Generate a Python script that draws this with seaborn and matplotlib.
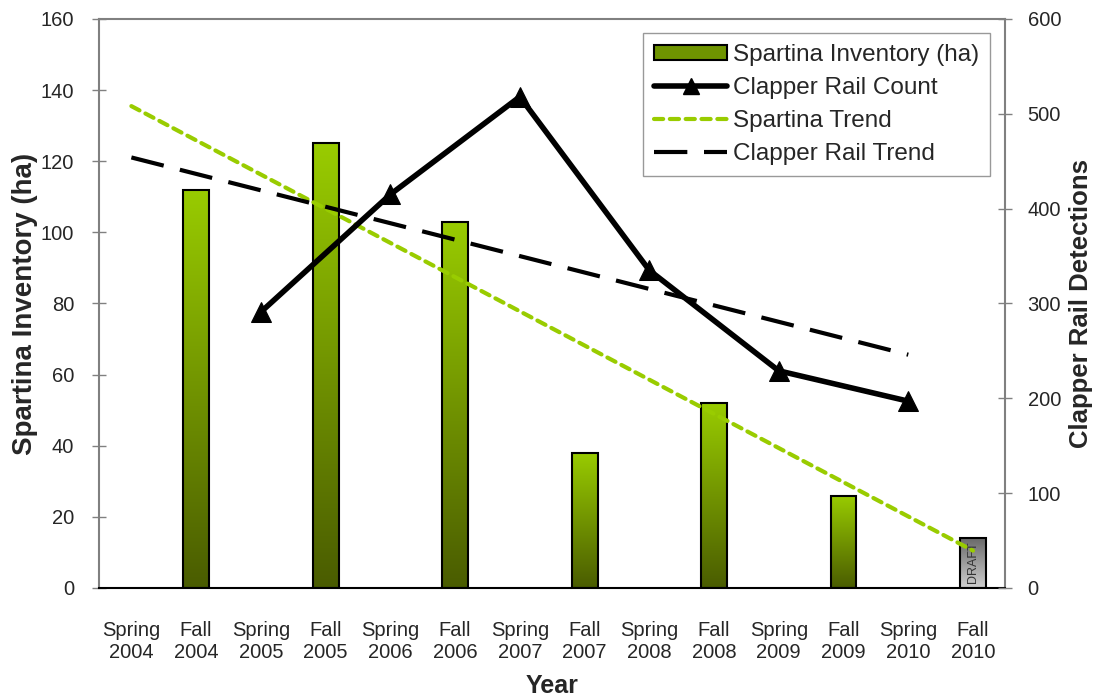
import matplotlib
matplotlib.use('Agg')
import matplotlib.pyplot as plt
import pandas as pd
import seaborn as sns
import numpy as np
from matplotlib.colors import LinearSegmentedColormap
from matplotlib.lines import Line2D
from matplotlib.patches import Patch

# Data
seasons = ['Spring\n2004', 'Fall\n2004', 'Spring\n2005', 'Fall\n2005', 'Spring\n2006', 'Fall\n2006',
           'Spring\n2007', 'Fall\n2007', 'Spring\n2008', 'Fall\n2008', 'Spring\n2009', 'Fall\n2009',
           'Spring\n2010', 'Fall\n2010']
spartina_idx = [1, 3, 5, 7, 9, 11, 13]
spartina_ha = [112, 125, 103, 38, 52, 26, 14]
rail_idx = [2, 4, 6, 8, 10, 12]
rail_count = [291, 415, 518, 335, 229, 197]
spartina_trend_idx = [0, 13]
spartina_trend = [135.5, 10.5]
rail_trend_idx = [0, 12]
rail_trend = [454, 246]

sns.set_style('white')
plt.rcParams['font.family'] = ['Liberation Sans', 'DejaVu Sans']

fig = plt.figure(figsize=(10.94, 6.98), dpi=100)
ax = fig.add_axes([0.0905, 0.1576, 0.8285, 0.8152])

df_bar = pd.DataFrame({'pos': spartina_idx, 'ha': spartina_ha})
sns.barplot(data=df_bar, x='pos', y='ha', native_scale=True, width=0.2,
            color='#7a9e00', edgecolor='black', linewidth=1.5, ax=ax, zorder=2)

# gradient fill in the bars
green = LinearSegmentedColormap.from_list('g', ['#4a5c00', '#99cc00'])
grey = LinearSegmentedColormap.from_list('k', ['#cfcfcf', '#6a6a6a'])
grad = np.linspace(0, 1, 256).reshape(-1, 1)
patches = list(ax.patches)
for i, p in enumerate(patches):
    x0, y0, w, h = p.get_x(), p.get_y(), p.get_width(), p.get_height()
    cmap = grey if i == len(patches) - 1 else green
    im = ax.imshow(grad, cmap=cmap, extent=[x0, x0 + w, y0, y0 + h], origin='lower',
                   aspect='auto', zorder=1.9)
    im.set_clip_path(p)
    p.set_facecolor('none')
last = patches[-1]
ax.text(last.get_x() + last.get_width() / 2, last.get_height() / 2 + 0.3, 'DRAFT', rotation=90,
        ha='center', va='center', fontsize=9, color='#333333', zorder=3)

# spartina trend (left axis)
sns.lineplot(x=spartina_trend_idx, y=spartina_trend, ax=ax, color='#99cc00', linewidth=3,
             zorder=4)
ax.lines[-1].set_dashes((2.2, 1.6))
ax.lines[-1].set_dash_capstyle('round')

ax.set_xlim(-0.5, 13.5)
ax.set_ylim(0, 160)
ax.set_yticks(range(0, 161, 20))
ax.set_xticks(range(len(seasons)))
ax.set_xticklabels(seasons, fontsize=14.5, linespacing=1.15)
ax.set_xticks(np.arange(-0.5, 13.6, 1), minor=True)
ax.tick_params(axis='x', which='major', length=0, pad=24)
ax.tick_params(axis='x', which='minor', length=8, direction='inout', color='#808080', width=1)
ax.tick_params(axis='y', length=10, direction='inout', color='#808080', width=1,
               labelsize=14.5, pad=13)
ax.set_xlabel('Year', fontsize=18, fontweight='bold', labelpad=9)
ax.set_ylabel('Spartina Inventory (ha)', fontsize=20, fontweight='bold', labelpad=2)
for s in ['left', 'right', 'top']:
    ax.spines[s].set_color('#808080')
    ax.spines[s].set_linewidth(1.5)
ax.spines['bottom'].set_color('black')
ax.spines['bottom'].set_linewidth(1.5)

# clapper rail (right axis)
ax2 = ax.twinx()
sns.lineplot(x=rail_idx, y=rail_count, ax=ax2, color='black', linewidth=4, marker='^',
             markersize=15, markeredgecolor='black')
sns.lineplot(x=rail_trend_idx, y=rail_trend, ax=ax2, color='black', linewidth=3)
ax2.lines[-1].set_dashes((8, 4))
ax2.set_ylim(0, 600)
ax2.set_xlim(-0.5, 13.5)
ax2.set_yticks(range(0, 601, 100))
ax2.tick_params(axis='y', length=10, direction='inout', color='#808080', width=1,
                labelsize=14.5, pad=11)
ax2.set_ylabel('Clapper Rail Detections', fontsize=18.5, fontweight='bold', labelpad=6)
for s in ax2.spines.values():
    s.set_visible(False)

handles = [
    Patch(facecolor='#6f9400', edgecolor='black', linewidth=1.5),
    Line2D([], [], color='black', linewidth=4, marker='^', markersize=12),
    Line2D([], [], color='#99cc00', linewidth=3, dashes=(2.2, 1.6), dash_capstyle='round'),
    Line2D([], [], color='black', linewidth=3, dashes=(8, 4)),
]
labels = ['Spartina Inventory (ha)', 'Clapper Rail Count', 'Spartina Trend', 'Clapper Rail Trend']
leg = ax2.legend(handles, labels, loc='upper right', bbox_to_anchor=(0.9834, 0.9754), fontsize=17.5,
                 frameon=True, fancybox=False, edgecolor='#808080', handlelength=3.0,
                 handleheight=0.6, labelspacing=0.45, borderpad=0.45, handletextpad=0.25,
                 borderaxespad=0)
leg.get_frame().set_linewidth(1.0)

fig.savefig('out.png', dpi=100)
